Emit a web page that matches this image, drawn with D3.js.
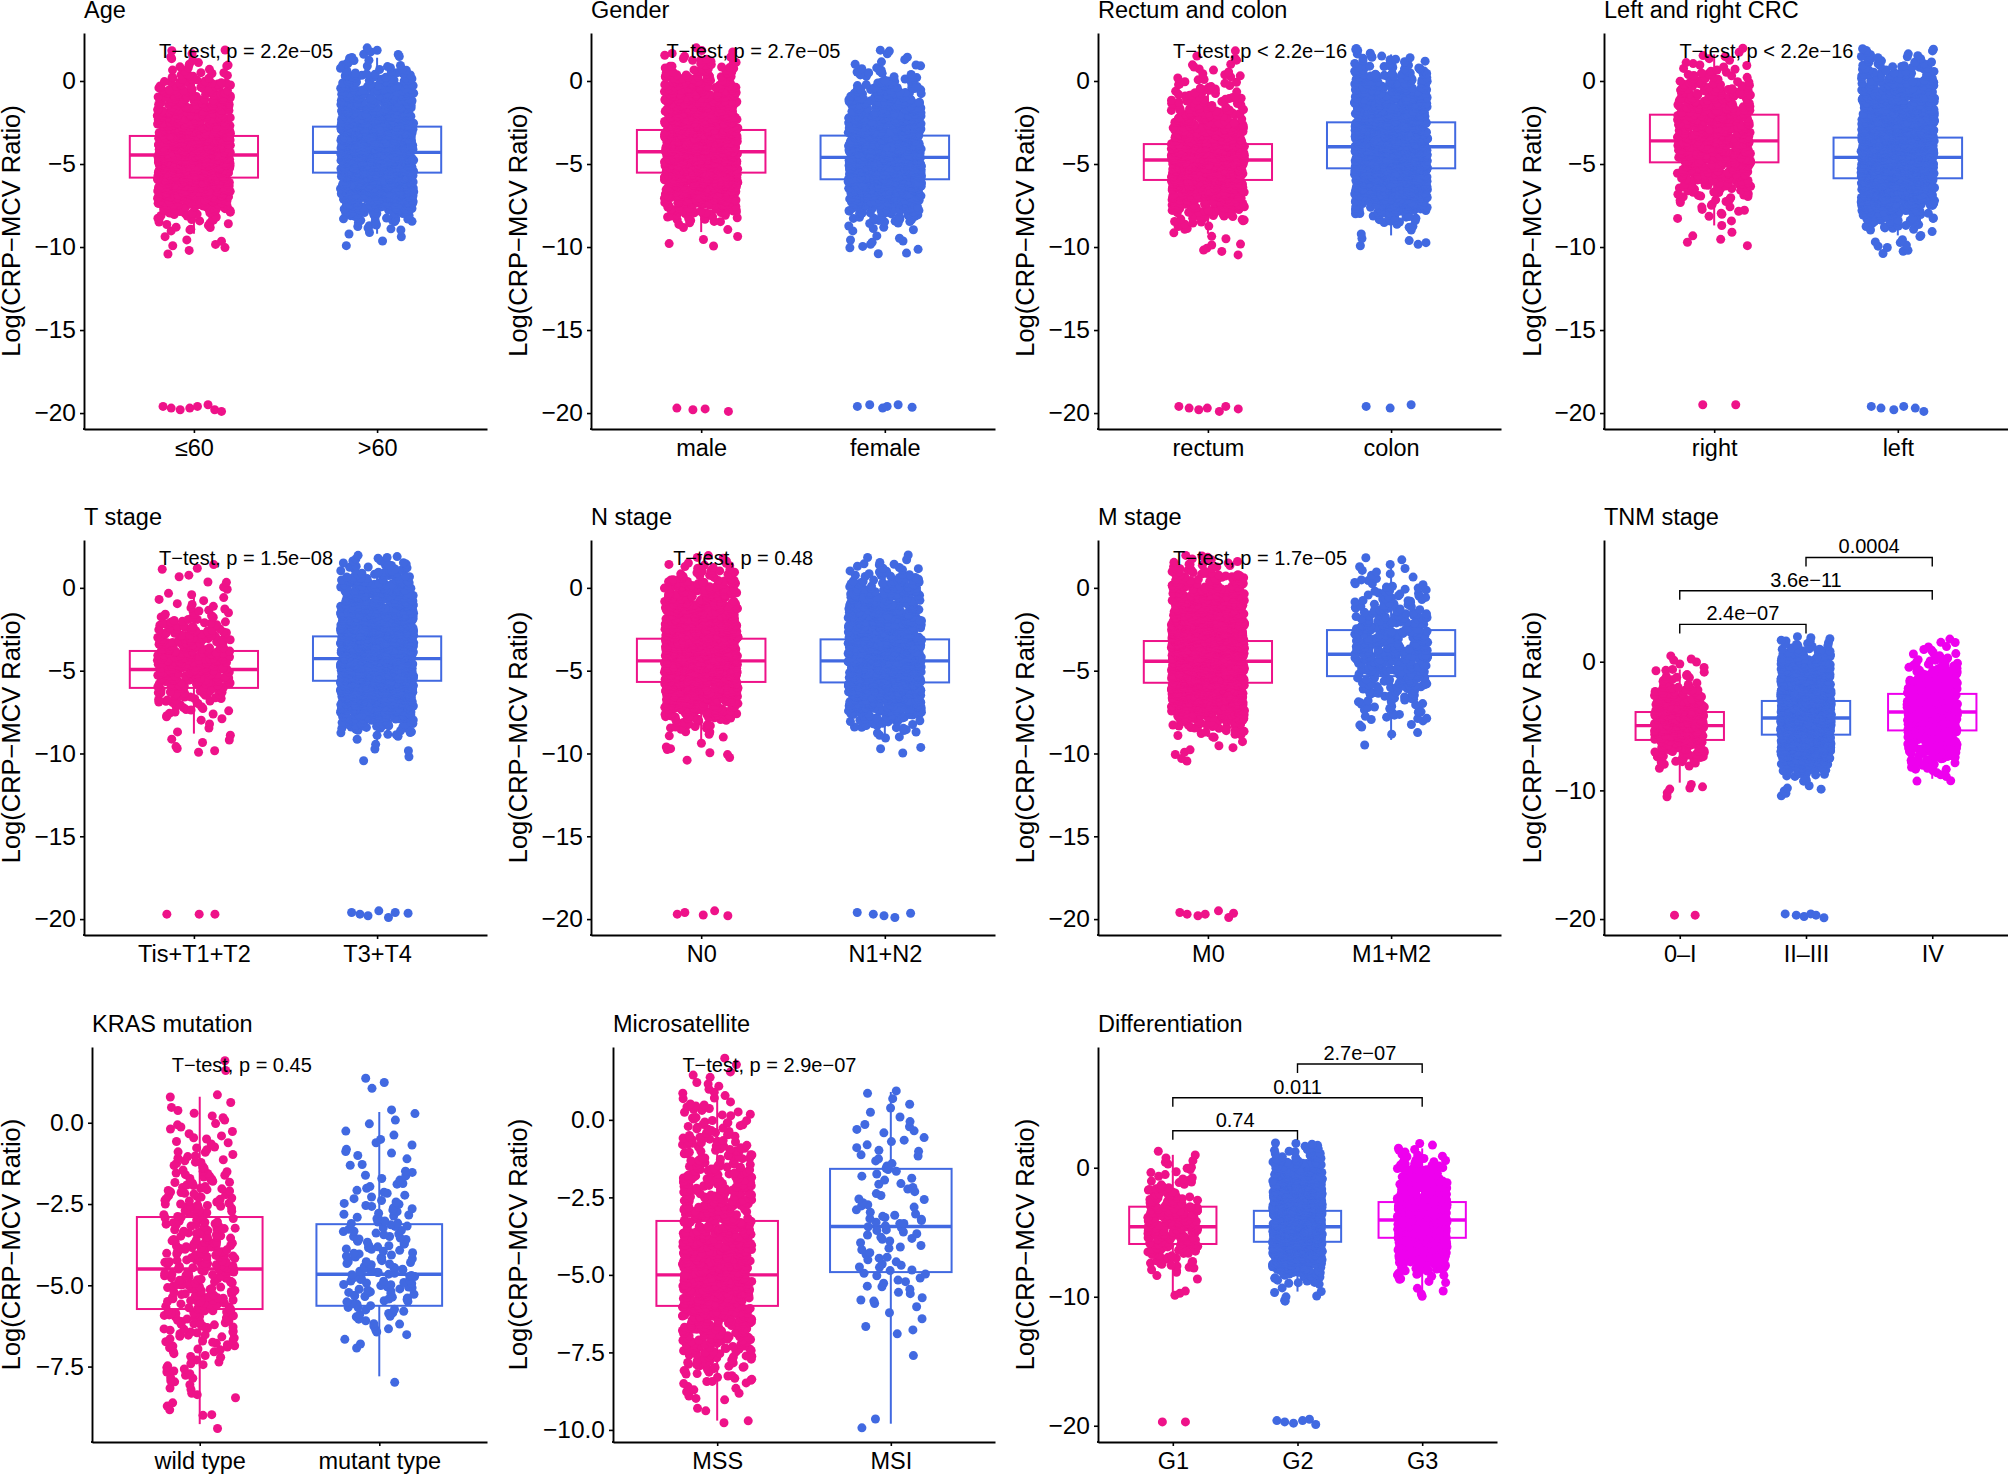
<!DOCTYPE html>
<html><head><meta charset="utf-8">
<script src="https://cdn.jsdelivr.net/npm/d3@7"></script>
<style>
html,body{margin:0;padding:0;background:#fff;}
svg{display:block;font-family:"Liberation Sans",Arial,Helvetica,sans-serif;}
</style></head><body>
<svg id="chart" width="2008" height="1475"></svg>
<script>
// ---------- DATA ----------
// Value histograms: lower bin edges (bin width 0.5) and per-group point counts per bin
const binEdges = [-10.5,-10,-9.5,-9,-8.5,-8,-7.5,-7,-6.5,-6,-5.5,-5,-4.5,-4,-3.5,-3,-2.5,-2,-1.5,-1,-0.5,0,0.5,1,1.5];
const binWidth = 0.5;
const yTitle = "Log(CRP\u2212MCV Ratio)";

const ageGroups = ["\u226460", ">60"];
const ageCounts = [[3,4,2,8,12,30,50,65,80,90,95,98,95,90,82,72,62,52,42,34,26,14,8,5,3],
                   [0,2,3,8,18,40,65,85,100,110,118,120,118,112,104,94,82,70,60,50,40,28,12,8,5]];
const ageLow = [[-19.6,-19.7,-19.8,-19.7,-19.6,-19.5,-19.8,-19.9],[]];
const ageBox = [[-9.2,-5.82,-4.46,-3.31,0.4],[-9.2,-5.52,-4.3,-2.75,1.4]];
const ageP = "T\u2212test, p = 2.2e\u221205";

const genderGroups = ["male", "female"];
const genderCounts = [[0,3,1,4,14,34,56,76,92,104,112,116,116,110,102,92,80,70,60,50,42,30,18,10,5],
                      [4,5,3,6,18,36,58,76,90,100,106,106,100,92,82,70,60,50,42,34,26,14,7,4,3]];
const genderLow = [[-19.7,-19.8,-19.75,-19.9],[-19.6,-19.5,-19.7,-19.6,-19.5,-19.65]];
const genderBox = [[-9.1,-5.52,-4.26,-2.95,1.4],[-9.0,-5.92,-4.6,-3.29,0.6]];
const genderP = "T\u2212test, p = 2.7e\u221205";

const siteGroups = ["rectum", "colon"];
const siteCounts = [[4,3,2,6,14,34,54,70,84,92,98,98,92,80,66,52,38,28,20,14,10,7,5,3,2],
                    [0,4,2,5,14,36,58,80,98,112,122,126,126,124,116,106,94,82,70,58,48,36,22,12,6]];
const siteLow = [[-19.6,-19.7,-19.8,-19.7,-19.9,-19.6,-19.75],[-19.6,-19.7,-19.5]];
const siteBox = [[-9.2,-5.96,-4.76,-3.8,-0.5],[-9.3,-5.26,-3.96,-2.49,1.6]];
const siteP = "T\u2212test, p < 2.2e\u221216";

const sideGroups = ["right", "left"];
const sideCounts = [[0,3,2,1,4,6,8,16,26,36,44,50,54,56,56,54,50,44,38,32,24,14,8,5,3],
                    [4,5,3,12,26,50,78,104,126,140,150,152,148,138,124,108,92,78,66,56,46,34,22,14,8]];
const sideLow = [[-19.5,-19.5],[-19.6,-19.7,-19.8,-19.6,-19.7,-19.9]];
const sideBox = [[-8.7,-4.9,-3.61,-2.03,1.6],[-9.3,-5.86,-4.6,-3.41,0.3]];
const sideP = "T\u2212test, p < 2.2e\u221216";

const tGroups = ["Tis+T1+T2", "T3+T4"];
const tCounts = [[0,4,3,2,2,6,10,16,24,32,40,42,42,40,34,26,18,11,7,4,3,3,2,3,0],
                 [2,2,2,10,28,54,84,110,130,145,154,156,154,145,134,120,104,90,76,64,52,38,24,14,8]];
const tLow = [[-19.7,-19.7,-19.7],[-19.6,-19.7,-19.8,-19.5,-19.9,-19.6,-19.65]];
const tBox = [[-8.8,-6.04,-4.93,-3.81,-0.6],[-9.3,-5.61,-4.27,-2.93,1.1]];
const tP = "T\u2212test, p = 1.5e\u221208";

const nGroups = ["N0", "N1+N2"];
const nCounts = [[3,4,2,5,14,34,56,76,92,104,112,116,116,110,102,92,80,70,60,50,42,30,18,10,5],
                 [0,3,1,6,16,36,58,76,92,102,110,112,110,104,96,86,76,66,56,46,38,28,16,9,4]];
const nLow = [[-19.7,-19.6,-19.75,-19.5,-19.8],[-19.6,-19.7,-19.8,-19.9,-19.65]];
const nBox = [[-9.2,-5.68,-4.41,-3.07,0.8],[-9.2,-5.71,-4.41,-3.11,0.8]];
const nP = "T\u2212test, p = 0.48";

const mGroups = ["M0", "M1+M2"];
const mCounts = [[3,4,2,10,26,54,84,110,130,145,154,156,154,145,134,120,104,90,76,64,52,38,24,14,8],
                 [0,0,1,2,4,9,10,12,18,24,30,34,36,38,38,34,30,24,20,15,11,8,5,4,2]];
const mLow = [[-19.6,-19.7,-19.8,-19.7,-19.5,-19.9,-19.65],[]];
const mBox = [[-9.0,-5.73,-4.43,-3.21,0.5],[-9.18,-5.33,-4.01,-2.55,1.24]];
const mP = "T\u2212test, p = 1.7e\u221205";

const tnmGroups = ["0\u2013I", "II\u2013III", "IV"];
const tnmCounts = [[2,4,0,0,2,8,14,22,30,38,46,48,46,40,32,24,16,10,7,5,3,3,0,0,0],
                   [3,3,2,10,22,42,64,84,100,112,118,120,118,112,104,92,80,68,58,48,38,28,16,10,6],
                   [0,0,2,3,7,12,18,24,32,40,48,54,56,56,54,48,40,32,24,16,10,7,5,3,2]];
const tnmLow = [[-19.7,-19.7],[-19.6,-19.7,-19.8,-19.6,-19.7,-19.9],[]];
const tnmBox = [[-9.4,-6.08,-4.97,-3.91,-0.6],[-9.6,-5.67,-4.37,-3.05,0.8],[-9.1,-5.34,-3.91,-2.5,1.2]];
const tnmComparisons = [[0,1,2.9,"2.4e\u221207"],[0,2,5.52,"3.6e\u221211"],[1,2,8.1,"0.0004"]];

const krasGroups = ["wild type", "mutant type"];
const krasCounts = [[0,0,2,4,6,10,12,18,24,30,34,36,36,32,28,26,22,18,14,10,8,6,3,0,2],
                    [0,0,0,0,0,1,0,4,8,14,22,24,22,18,16,14,10,8,5,6,3,3,0,3,0]];
const krasLow = [[],[]];
const krasBox = [[-9.27,-5.73,-4.5,-2.9,0.8],[-7.8,-5.63,-4.66,-3.12,0.33]];
const krasP = "T\u2212test, p = 0.45";

const msiGroups = ["MSS", "MSI"];
const msiCounts = [[0,2,3,8,16,30,42,56,72,86,94,96,88,78,68,58,48,40,32,26,20,14,8,5,3],
                   [0,2,0,0,0,1,0,3,3,6,8,10,8,10,13,8,7,7,7,6,6,3,4,0,0]];
const msiLow = [[],[]];
const msiBox = [[-9.7,-6.0,-5.0,-3.26,0.8],[-9.8,-4.91,-3.44,-1.58,0.9]];
const msiP = "T\u2212test, p = 2.9e\u221207";

const diffGroups = ["G1", "G2", "G3"];
const diffCounts = [[0,3,0,1,2,6,9,12,16,22,26,30,30,26,21,16,12,9,7,5,4,3,3,1,0],
                    [3,3,2,10,22,42,64,84,100,112,118,120,118,112,104,92,80,68,58,48,38,28,16,10,6],
                    [0,3,1,4,9,16,26,38,50,60,68,72,74,72,68,60,50,42,34,26,20,12,7,4,3]];
const diffLow = [[-19.7,-19.7],[-19.6,-19.7,-19.8,-19.6,-19.5,-19.9],[]];
const diffBox = [[-10.0,-5.91,-4.57,-3.02,1.0],[-9.6,-5.74,-4.57,-3.34,0.2],[-9.6,-5.43,-4.05,-2.66,1.5]];
const diffComparisons = [[0,1,2.87,"0.74"],[0,2,5.43,"0.011"],[1,2,8.04,"2.7e\u221207"]];

const ticksStd = [-20,-15,-10,-5,0];
const ticksWideRange = [-20,-10,0];
const ticksKras = [-7.5,-5,-2.5,0];
const ticksMsi = [-10,-7.5,-5,-2.5,0];

// ---------- LAYOUT / STYLE ----------
const groupColors = ["#EE1289", "#4169E1", "#EE00EE"];
const plotRects = [
  {l:84,r:487,t:33,b:429},{l:591,r:995,t:33,b:429},{l:1098,r:1501,t:33,b:429},{l:1604,r:2008,t:33,b:429},
  {l:84,r:487,t:540,b:935},{l:591,r:995,t:540,b:935},{l:1098,r:1501,t:540,b:935},{l:1604,r:2008,t:540,b:935},
  {l:92,r:487,t:1047,b:1442},{l:613,r:995,t:1047,b:1442},{l:1098,r:1497,t:1047,b:1442}];
const yTitleX = [20, 527, 1034, 1541];
const domStd = [-20.96, 2.89];

const panels = [
  {title:"Age", groups:ageGroups, counts:ageCounts, low:ageLow, box:ageBox, p:ageP, ticks:ticksStd, fmt:"d", domain:domStd},
  {title:"Gender", groups:genderGroups, counts:genderCounts, low:genderLow, box:genderBox, p:genderP, ticks:ticksStd, fmt:"d", domain:domStd},
  {title:"Rectum and colon", groups:siteGroups, counts:siteCounts, low:siteLow, box:siteBox, p:siteP, ticks:ticksStd, fmt:"d", domain:domStd},
  {title:"Left and right CRC", groups:sideGroups, counts:sideCounts, low:sideLow, box:sideBox, p:sideP, ticks:ticksStd, fmt:"d", domain:domStd},
  {title:"T stage", groups:tGroups, counts:tCounts, low:tLow, box:tBox, p:tP, ticks:ticksStd, fmt:"d", domain:domStd},
  {title:"N stage", groups:nGroups, counts:nCounts, low:nLow, box:nBox, p:nP, ticks:ticksStd, fmt:"d", domain:domStd},
  {title:"M stage", groups:mGroups, counts:mCounts, low:mLow, box:mBox, p:mP, ticks:ticksStd, fmt:"d", domain:domStd},
  {title:"TNM stage", groups:tnmGroups, counts:tnmCounts, low:tnmLow, box:tnmBox, comps:tnmComparisons, ticks:ticksWideRange, fmt:"d", domain:[-21.24, 9.46]},
  {title:"KRAS mutation", groups:krasGroups, counts:krasCounts, low:krasLow, box:krasBox, p:krasP, ticks:ticksKras, fmt:".1f", domain:[-9.82, 2.33]},
  {title:"Microsatellite", groups:msiGroups, counts:msiCounts, low:msiLow, box:msiBox, p:msiP, ticks:ticksMsi, fmt:".1f", domain:[-10.39, 2.35]},
  {title:"Differentiation", groups:diffGroups, counts:diffCounts, low:diffLow, box:diffBox, comps:diffComparisons, ticks:ticksWideRange, fmt:"d", domain:[-21.26, 9.36]}
];

// deterministic integer hash -> [0,1): used only to place points inside their bin / jitter band
function hash01(n) {
  let h = Math.imul(n ^ 0x9E3779B9, 0x85EBCA6B);
  h ^= h >>> 13; h = Math.imul(h, 0xC2B2AE35); h ^= h >>> 16;
  h = Math.imul(h ^ (h >>> 15), 0x2C1B3C6D); h ^= h >>> 12;
  return (h >>> 0) / 4294967296;
}

const svg = d3.select("#chart");
const FONT = '"Liberation Sans", Arial, Helvetica, sans-serif';

panels.forEach((p, i) => {
  const rc = plotRects[i];
  const col = i % 4, row = Math.floor(i / 4);
  const n = p.groups.length;
  const x = d3.scaleLinear().domain([0.4, n + 0.6]).range([rc.l, rc.r]);
  const y = d3.scaleLinear().domain(p.domain).range([rc.b, rc.t]);
  const g = svg.append("g");

  // boxplots (under the points)
  const bg = g.append("g");
  p.box.forEach((b, gi) => {
    const c = gi + 1, colr = groupColors[gi];
    const [wlo, q1, med, q3, whi] = b;
    bg.append("line").attr("x1", x(c)).attr("x2", x(c)).attr("y1", y(q3)).attr("y2", y(whi))
      .attr("stroke", colr).attr("stroke-width", 2);
    bg.append("line").attr("x1", x(c)).attr("x2", x(c)).attr("y1", y(q1)).attr("y2", y(wlo))
      .attr("stroke", colr).attr("stroke-width", 2);
    bg.append("rect").attr("x", x(c - 0.35)).attr("width", x(c + 0.35) - x(c - 0.35))
      .attr("y", y(q3)).attr("height", y(q1) - y(q3))
      .attr("fill", "#fff").attr("stroke", colr).attr("stroke-width", 2);
    bg.append("line").attr("x1", x(c - 0.35)).attr("x2", x(c + 0.35)).attr("y1", y(med)).attr("y2", y(med))
      .attr("stroke", colr).attr("stroke-width", 3.4);
  });

  // jittered points: each bin's count is spread evenly over the bin (stratified), x jittered ±0.2
  const pts = [];
  p.counts.forEach((cnts, gi) => {
    let idx = (i * 7 + gi) * 100003;
    cnts.forEach((cnt, b) => {
      for (let k = 0; k < cnt; k++) {
        idx++;
        const v = binEdges[b] + binWidth * (k + hash01(idx * 3 + 1)) / cnt;
        pts.push({v, gi, u: 2 * hash01(idx * 3 + 2) - 1});
      }
    });
    const m = p.low[gi].length;
    p.low[gi].forEach((v, k) => {
      idx++;
      const u = 0.9 * (2 * (k + 0.2 + 0.6 * hash01(idx * 3 + 2)) / m - 1);
      pts.push({v, gi, u});
    });
  });
  g.append("g").selectAll("circle").data(pts).join("circle")
    .attr("cx", d => x(d.gi + 1 + d.u * 0.2))
    .attr("cy", d => y(d.v))
    .attr("r", 4.5)
    .attr("fill", d => groupColors[d.gi]);

  // axes
  const yAxis = d3.axisLeft(y).tickValues(p.ticks).tickFormat(d3.format(p.fmt))
    .tickSize(4).tickSizeOuter(0).tickPadding(4);
  const ya = g.append("g").attr("transform", `translate(${rc.l},0)`).call(yAxis);
  const xAxis = d3.axisBottom(x).tickValues(d3.range(1, n + 1)).tickFormat(d => p.groups[d - 1])
    .tickSize(4).tickSizeOuter(0).tickPadding(6);
  const xa = g.append("g").attr("transform", `translate(0,${rc.b})`).call(xAxis);
  [ya, xa].forEach(a => {
    a.attr("font-family", FONT);
    a.select(".domain").attr("stroke", "#000").attr("stroke-width", 1.9);
    a.selectAll(".tick line").attr("stroke", "#000").attr("stroke-width", 1.6);
    a.selectAll(".tick text").attr("fill", "#000");
  });
  ya.attr("font-size", 24.5);
  xa.attr("font-size", 23.5);
  g.append("rect").attr("x", rc.l - 0.95).attr("y", rc.b - 0.95).attr("width", 1.9).attr("height", 1.9).attr("fill", "#000");

  // y title
  g.append("text").attr("transform", "rotate(-90)")
    .attr("x", -(rc.t + rc.b) / 2).attr("y", yTitleX[col])
    .attr("text-anchor", "middle").attr("font-size", 25.5).attr("fill", "#000").text(yTitle);

  // panel title
  g.append("text").attr("x", rc.l).attr("y", 18 + row * 507)
    .attr("font-size", 23.5).attr("fill", "#000").text(p.title);

  // p value label (anchored on first group, hjust ~0.2)
  if (p.p) {
    const t = g.append("text").attr("y", rc.t + 24.5).attr("font-size", 20).attr("fill", "#000").text(p.p);
    const len = t.node().getComputedTextLength();
    t.attr("x", x(1) - 0.2 * len);
  }

  // pairwise comparison brackets
  if (p.comps) {
    p.comps.forEach(([a, b, v, lab]) => {
      const x1 = x(a + 1), x2 = x(b + 1), yy = y(v);
      g.append("path").attr("d", `M${x1},${yy + 9}V${yy}H${x2}V${yy + 9}`)
        .attr("fill", "none").attr("stroke", "#000").attr("stroke-width", 1.4);
      g.append("text").attr("x", (x1 + x2) / 2).attr("y", yy - 4)
        .attr("text-anchor", "middle").attr("font-size", 20).attr("fill", "#000").text(lab);
    });
  }
});
</script>
</body></html>
